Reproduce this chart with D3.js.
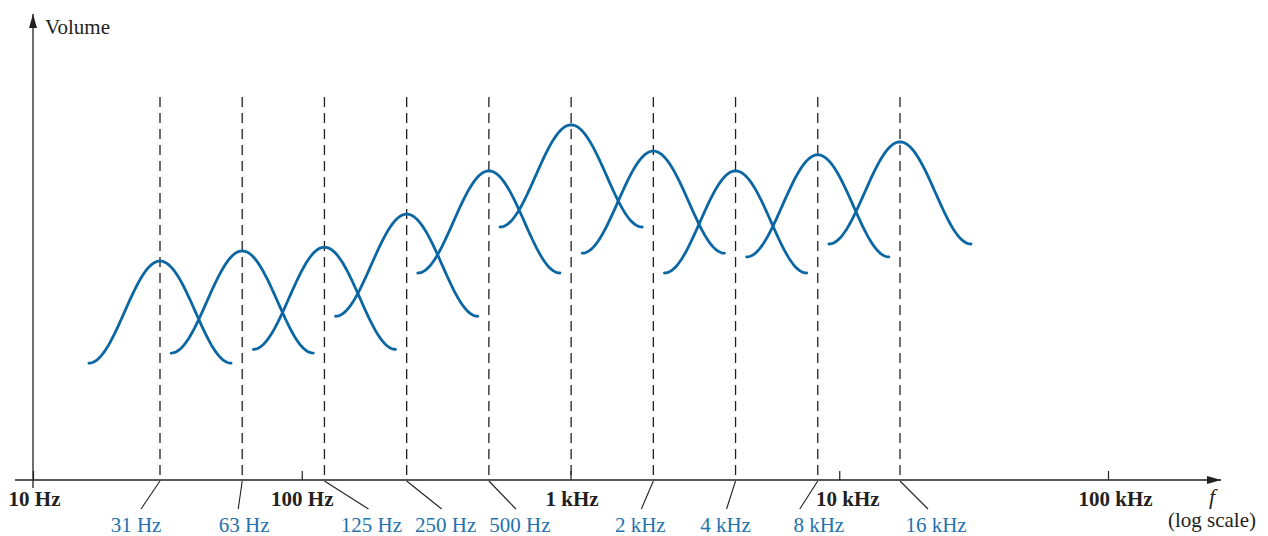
<!DOCTYPE html>
<html>
<head>
<meta charset="utf-8">
<script src="https://cdn.jsdelivr.net/npm/d3@7"></script>
<style>
  html, body { margin: 0; padding: 0; background: #fff; }
  svg { display: block; font-family: "Liberation Serif", "Times New Roman", serif; }
</style>
</head>
<body>
<svg id="chart" width="1268" height="536"></svg>
<script>
// ── Equalizer bands on a log-frequency axis ──────────────────────────────────

// decade ticks on the main axis
const decadeValues = [10, 100, 1000, 10000, 100000];
const decadeLabels = ["10 Hz", "100 Hz", "1 kHz", "10 kHz", "100 kHz"];

// octave bands (centre frequency, label, peak volume in arbitrary units 0-100)
const bandCenters = [31.25, 62.5, 125, 250, 500, 1000, 2000, 4000, 8000, 16000];
const bandLabels  = ["31 Hz", "63 Hz", "125 Hz", "250 Hz", "500 Hz", "1 kHz", "2 kHz", "4 kHz", "8 kHz", "16 kHz"];
const bandPeaks   = [47.6, 49.8, 50.6, 57.8, 67.2, 77.2, 71.5, 67.2, 70.7, 73.5];
const bandDepth   = 22.2;   // each bell drops this much from its peak

// layout only: where the blue labels sit relative to their band line (px)
const labelShift  = [-24, 2, 47, 39, 31, 0, -13, -10, 1, 36];
const leaderShift = [-19, -4, 44, 35, 27, 0, -12, -9, -18, 28];
const decadeNudge = [1, 0, 1, 8, 7];

const BLUE_LINE = "#0b67a3";
const BLUE_TEXT = "#1f72ad";
const INK = "#231f20";

const svg = d3.select("#chart");
const axisY = 480;

// ── Scales ───────────────────────────────────────────────────────────────────
const x = d3.scaleLog().domain([10, 100000]).range([33, 1108]);
// bands are drawn schematically: one octave = a fixed step
const xBand = d3.scaleLog().base(2).domain([31.25, 16000]).range([160, 900]);
const y = d3.scaleLinear().domain([0, 100]).range([axisY, 20]);

const halfOct = 0.865; // half-width of each bell, in octaves

// ── Dashed band lines ────────────────────────────────────────────────────────
svg.append("g").selectAll("line")
  .data(bandCenters)
  .join("line")
    .attr("x1", d => xBand(d)).attr("x2", d => xBand(d))
    .attr("y1", 97).attr("y2", axisY)
    .attr("stroke", INK)
    .attr("stroke-width", 1.3)
    .attr("stroke-dasharray", "10,6");

// ── Bell curves ──────────────────────────────────────────────────────────────
const line = d3.line()
  .x(d => xBand(d.f))
  .y(d => y(d.v))
  .curve(d3.curveLinear);

const steps = d3.range(-1, 1.0001, 0.02);
svg.append("g").selectAll("path")
  .data(bandCenters.map((c, i) => ({ c, peak: bandPeaks[i] })))
  .join("path")
    .attr("d", b => line(steps.map(t => ({
      f: b.c * Math.pow(2, t * halfOct),
      v: b.peak - bandDepth + bandDepth * (1 + Math.cos(Math.PI * t)) / 2
    }))))
    .attr("fill", "none")
    .attr("stroke", BLUE_LINE)
    .attr("stroke-width", 2.8)
    .attr("stroke-linecap", "round");

// ── Axes ─────────────────────────────────────────────────────────────────────
svg.append("defs").append("marker")
    .attr("id", "arrow")
    .attr("viewBox", "0 0 14 8")
    .attr("refX", 14).attr("refY", 4)
    .attr("markerWidth", 14).attr("markerHeight", 8)
    .attr("markerUnits", "userSpaceOnUse")
    .attr("orient", "auto")
  .append("path")
    .attr("d", "M0,0 L14,4 L0,8 Z")
    .attr("fill", INK);

svg.append("line")
  .attr("x1", 15).attr("x2", 1221)
  .attr("y1", axisY).attr("y2", axisY)
  .attr("stroke", INK).attr("stroke-width", 1.3)
  .attr("marker-end", "url(#arrow)");

svg.append("line")
  .attr("x1", x(10)).attr("x2", x(10))
  .attr("y1", 488).attr("y2", 14)
  .attr("stroke", INK).attr("stroke-width", 1.3)
  .attr("marker-end", "url(#arrow)");

const xAxis = d3.axisBottom(x)
  .tickValues(decadeValues)
  .tickFormat((d, i) => decadeLabels[i])
  .tickSizeInner(-9)
  .tickSizeOuter(0)
  .tickPadding(11);

const gx = svg.append("g")
  .attr("transform", `translate(0,${axisY})`)
  .call(xAxis);
gx.select(".domain").remove();
gx.selectAll(".tick line").attr("stroke", INK).attr("stroke-width", 1.2);
gx.selectAll(".tick text")
  .attr("dx", (d, i) => decadeNudge[i])
  .attr("fill", INK)
  .attr("font-family", "'Liberation Serif', serif")
  .attr("font-weight", "bold")
  .attr("font-size", 21);

// ── Band labels with leader lines ────────────────────────────────────────────
const bands = bandCenters.map((c, i) => ({ c, label: bandLabels[i], i }))
  .filter(b => b.c !== 1000);

svg.append("g").selectAll("line")
  .data(bands)
  .join("line")
    .attr("x1", b => xBand(b.c)).attr("y1", axisY + 1)
    .attr("x2", b => xBand(b.c) + leaderShift[b.i]).attr("y2", 509)
    .attr("stroke", INK)
    .attr("stroke-width", 1.1);

svg.append("g").selectAll("text")
  .data(bands)
  .join("text")
    .attr("x", b => xBand(b.c) + labelShift[b.i])
    .attr("y", 532)
    .attr("text-anchor", "middle")
    .attr("font-size", 21)
    .attr("fill", BLUE_TEXT)
    .text(b => b.label);

// ── Axis titles ──────────────────────────────────────────────────────────────
svg.append("text")
  .attr("x", 45).attr("y", 34)
  .attr("font-size", 21)
  .attr("fill", INK)
  .text("Volume");

svg.append("text")
  .attr("x", 1212).attr("y", 504)
  .attr("text-anchor", "middle")
  .attr("font-size", 22)
  .attr("font-style", "italic")
  .attr("fill", INK)
  .text("f");

svg.append("text")
  .attr("x", 1212).attr("y", 527)
  .attr("text-anchor", "middle")
  .attr("font-size", 21)
  .attr("fill", INK)
  .text("(log scale)");
</script>
</body>
</html>
